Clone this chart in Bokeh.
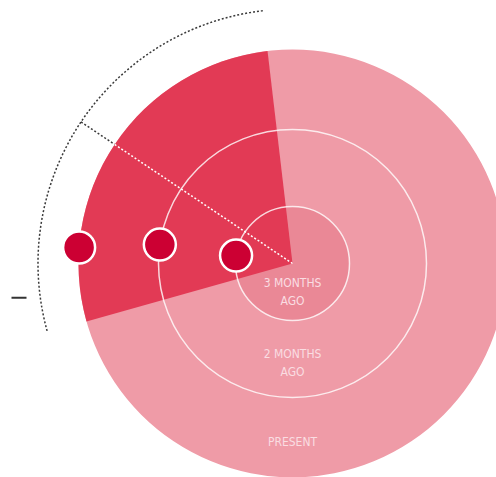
import math
from bokeh.plotting import figure
from bokeh.models import Range1d
from bokeh.core.properties import value
from bokeh.embed import file_html
from bokeh.resources import INLINE

# ---- data ----
ring_labels = [["PRESENT"], ["2 MONTHS", "AGO"], ["3 MONTHS", "AGO"]]
ring_radii = [214, 134, 57]          # outer -> inner
ring_fills = ["#EF9BA7", None, "#EA8896"]
wedge_start_deg = 96.7
wedge_end_deg = 195.7
dot_angles_deg = [175.7, 171.9, 172.0]   # one dot per ring (outer -> inner)
arc_radius = 254.5

W, H = 496, 477
p = figure(width=W, height=H, output_backend="svg", toolbar_location=None,
           x_range=Range1d(-292, 204), y_range=Range1d(-214, 263),
           min_border=0)
p.axis.visible = False
p.grid.visible = False
p.outline_line_color = None
p.background_fill_color = "white"
p.border_fill_color = "white"

R = ring_radii[0]
# outer disc
p.circle(x=[0], y=[0], radius=[R], fill_color=ring_fills[0], line_color=None)
# inner disc (slightly darker)
p.circle(x=[0], y=[0], radius=[ring_radii[2]], fill_color=ring_fills[2], line_color=None)
# wedge
p.wedge(x=0, y=0, radius=R, start_angle=wedge_start_deg, end_angle=wedge_end_deg,
        start_angle_units="deg", end_angle_units="deg", direction="anticlock",
        fill_color="#E23A55", line_color=None)
# ring outlines
for r in ring_radii[1:]:
    p.circle(x=[0], y=[0], radius=[r], fill_color=None, line_color="white",
             line_alpha=0.8, line_width=1.5)

# dotted outer arc
p.arc(x=0, y=0, radius=arc_radius, start_angle=wedge_start_deg, end_angle=wedge_end_deg,
      start_angle_units="deg", end_angle_units="deg", direction="anticlock",
      line_color="#3a3a3a", line_width=1.5, line_dash="2 2")

# dotted bisector line
mid = math.radians((wedge_start_deg + wedge_end_deg) / 2)
ca, sa = math.cos(mid), math.sin(mid)
p.segment(x0=[arc_radius * ca], y0=[arc_radius * sa], x1=[R * ca], y1=[R * sa],
          line_color="#3a3a3a", line_width=1.5, line_dash="2 2")
p.segment(x0=[R * ca], y0=[R * sa], x1=[0], y1=[0],
          line_color="white", line_width=1.5, line_dash="2 2")

# dots on rings
dx = [r * math.cos(math.radians(a)) for r, a in zip(ring_radii, dot_angles_deg)]
dy = [r * math.sin(math.radians(a)) for r, a in zip(ring_radii, dot_angles_deg)]
p.circle(x=dx, y=dy, radius=16, fill_color="#CC0033", line_color="white", line_width=2.5)

# labels
inner = ring_radii[1:] + [0]
tx, ty, tt = [], [], []
for lines, r, rin in zip(ring_labels, ring_radii, inner):
    c = -((r + rin) / 2 + (4 if rin else 0))
    n = len(lines)
    for i, s in enumerate(lines):
        tx.append(0)
        ty.append(c + (n - 1) * 9 - i * 18)
        tt.append(s)
p.text(x=tx, y=ty, text=tt, text_align="center", text_baseline="middle",
       text_font=value("DejaVu Sans Condensed, Roboto, sans-serif"), text_font_size="12px",
       text_color="#FADDE2")

# small dash at left
p.segment(x0=[-281], y0=[-34.3], x1=[-266], y1=[-34.3], line_color="#333333", line_width=2)

open("out.html", "w").write(file_html(p, INLINE))
